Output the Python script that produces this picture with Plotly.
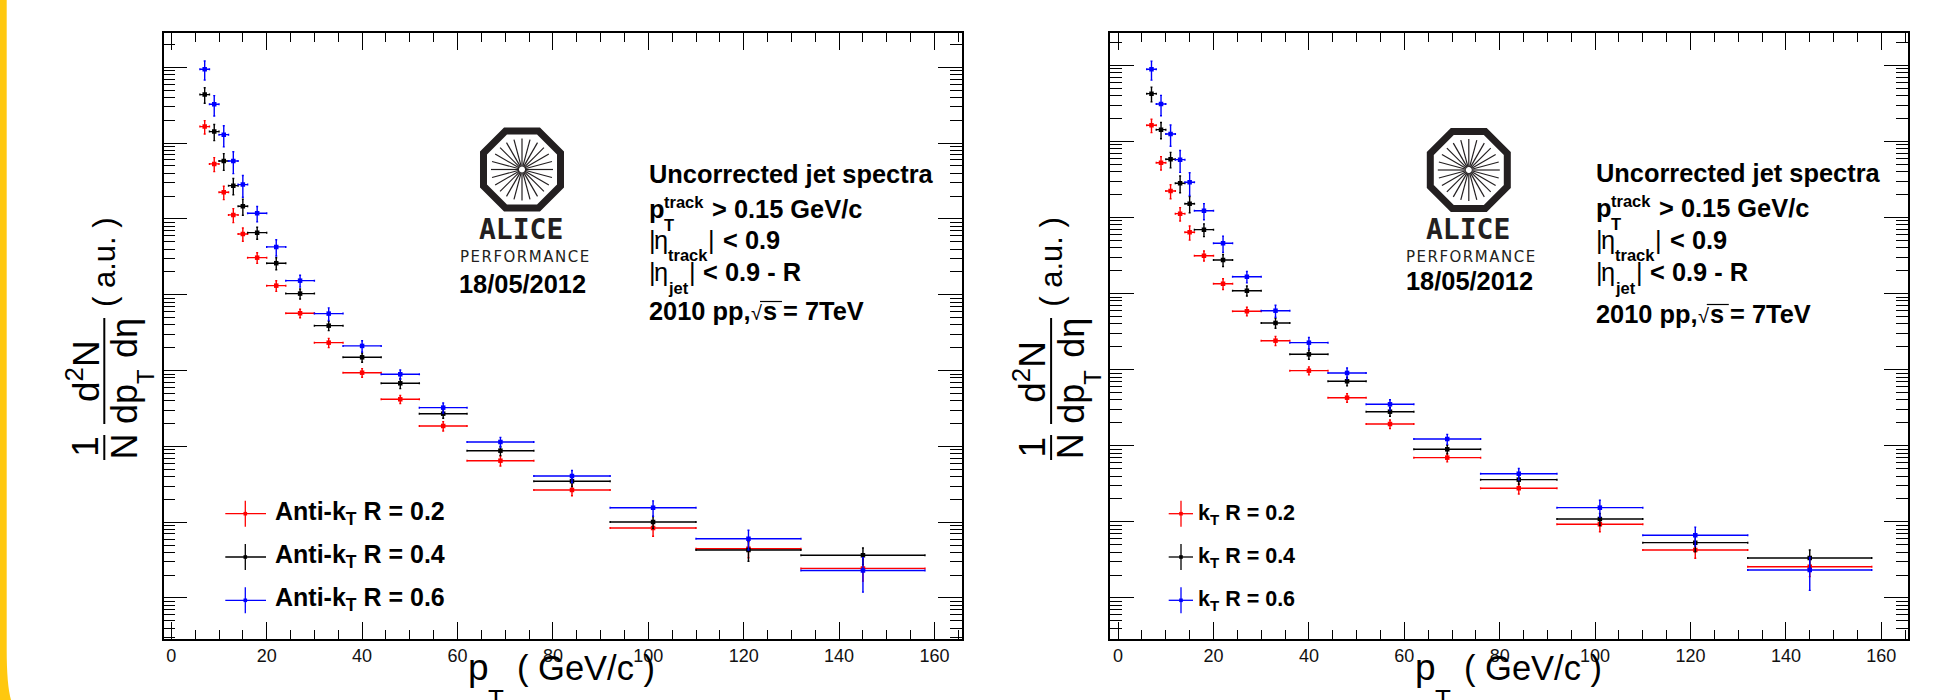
import math
import numpy as np
import plotly.graph_objects as go

W, H = 1945, 700
pt_centers = [7, 9, 11, 13, 15, 18, 22, 27, 33, 40, 48, 57, 69, 84, 101, 121, 145]
pt_half_widths = [1, 1, 1, 1, 1, 2, 2, 3, 3, 4, 4, 5, 7, 8, 9, 11, 13]

# log10 of the spectra (a.u.)
antikt_r02 = [6.218, 5.726, 5.352, 5.053, 4.802, 4.489, 4.120, 3.756, 3.368, 2.972, 2.621, 2.269, 1.811, 1.425, 0.923, 0.650, 0.390]
antikt_r04 = [6.640, 6.152, 5.765, 5.439, 5.168, 4.819, 4.416, 4.015, 3.592, 3.175, 2.832, 2.431, 1.943, 1.540, 1.003, 0.633, 0.563]
antikt_r06 = [6.975, 6.513, 6.112, 5.765, 5.453, 5.075, 4.631, 4.186, 3.751, 3.325, 2.951, 2.511, 2.058, 1.609, 1.191, 0.782, 0.362]
kt_r02 = [6.212, 5.720, 5.348, 5.050, 4.805, 4.498, 4.130, 3.767, 3.381, 2.987, 2.632, 2.286, 1.844, 1.442, 0.968, 0.631, 0.411]
kt_r04 = [6.627, 6.154, 5.765, 5.449, 5.181, 4.840, 4.442, 4.038, 3.614, 3.202, 2.848, 2.448, 1.954, 1.555, 1.038, 0.727, 0.526]
kt_r06 = [6.947, 6.491, 6.097, 5.760, 5.463, 5.089, 4.661, 4.222, 3.775, 3.355, 2.957, 2.545, 2.089, 1.633, 1.187, 0.824, 0.368]

# relative errors
antikt_r02_err = [.20, .21, .20, .21, .20, .16, .16, .13, .14, .13, .12, .14, .15, .16, .22, .24, .32]
antikt_r04_err = [.23, .24, .25, .24, .24, .18, .18, .15, .14, .14, .15, .13, .14, .15, .18, .29, .25]
antikt_r06_err = [.28, .30, .31, .32, .32, .23, .24, .18, .19, .17, .14, .15, .15, .18, .23, .29, .48]
kt_r02_err = [.20, .20, .21, .20, .21, .15, .16, .13, .14, .12, .13, .13, .12, .16, .20, .22, .26]
kt_r04_err = [.22, .24, .23, .25, .24, .19, .18, .15, .15, .14, .13, .13, .13, .14, .18, .24, .27]
kt_r06_err = [.28, .30, .31, .32, .33, .24, .24, .17, .18, .17, .16, .15, .15, .17, .25, .28, .46]

series_colors = ["#ff0000", "#000000", "#0000ff"]
panels = [
    dict(algo="Anti-k", y=[antikt_r02, antikt_r04, antikt_r06], e=[antikt_r02_err, antikt_r04_err, antikt_r06_err]),
    dict(algo="k", y=[kt_r02, kt_r04, kt_r06], e=[kt_r02_err, kt_r04_err, kt_r06_err]),
]
R_labels = ["0.2", "0.4", "0.6"]
x_tick_vals = [0, 20, 40, 60, 80, 100, 120, 140, 160]
x_minor_vals = [v for v in range(5, 170, 5) if v % 20]
y_major_vals = [10.0 ** k for k in range(0, 8)]
y_minor_vals = [m * 10.0 ** k for k in range(-1, 8) for m in range(2, 10)]

FONT = "Liberation Sans"
fig = go.Figure()
shapes, annos = [], []


def px(x):
    return x / W


def py(y):
    return 1 - y / H


def txt(x, base, text, size, bold=True, font=FONT, color="black"):
    t = f"<b>{text}</b>" if bold else text
    annos.append(dict(xref="paper", yref="paper", x=px(x), y=py(base + 0.212 * size), xanchor="left", yanchor="bottom",
                      text=t, showarrow=False, borderpad=0, borderwidth=0, align="left",
                      font=dict(family=font, size=size, color=color)))


def rot(xc, yc, text, size):
    annos.append(dict(xref="paper", yref="paper", x=px(xc), y=py(yc), xanchor="center", yanchor="middle",
                      text=text, textangle=-90, showarrow=False, borderpad=0,
                      font=dict(family=FONT, size=size, color="black")))


def line(x0, y0, x1, y1, color="black", w=1.3):
    shapes.append(dict(type="line", xref="paper", yref="paper", x0=px(x0), y0=py(y0), x1=px(x1), y1=py(y1),
                       line=dict(color=color, width=w)))


def path(pts, color="black", w=1, fill=None, close=False):
    d = "M" + " L".join(f"{px(a):.6f},{py(b):.6f}" for a, b in pts) + (" Z" if close else "")
    shapes.append(dict(type="path", xref="paper", yref="paper", path=d,
                       line=dict(color=color, width=w), fillcolor=fill))


frames = [(163.5, 961.7, 7.4525, -0.537), (1110.3, 1908.3, 7.424, -0.535)]
dx = 946.8

for i, (p, fr) in enumerate(zip(panels, frames)):
    n = "" if i == 0 else "2"
    xa, ya = "x" + n, "y" + n
    for vals, errs, col in zip(p["y"], p["e"], series_colors):
        v = np.power(10.0, vals)
        fig.add_trace(go.Scatter(
            x=pt_centers, y=v, mode="markers", xaxis=xa, yaxis=ya, showlegend=False,
            marker=dict(symbol="square", size=4.5, color=col, line=dict(width=0)),
            error_x=dict(type="data", array=pt_half_widths, color=col, thickness=1.4, width=1),
            error_y=dict(type="data", array=(v * np.array(errs)).tolist(), color=col, thickness=1.4, width=1),
        ))
    left, right, ytop, ybot = fr
    xlo = (left - (171.3 + i * dx)) / 4.77
    xhi = (right - (171.3 + i * dx)) / 4.77
    ax = dict(domain=[px(left), px(right)], range=[xlo, xhi], tickmode="array", tickvals=x_tick_vals,
              ticktext=[str(t) for t in x_tick_vals], ticks="inside", ticklen=17, tickwidth=1.3, tickcolor="black",
              minor=dict(tickmode="array", tickvals=x_minor_vals, ticks="inside", ticklen=9, tickwidth=1.3, tickcolor="black"),
              showline=True, linecolor="black", linewidth=1.7, mirror="ticks", showgrid=False, zeroline=False,
              tickfont=dict(family=FONT, size=18, color="#111111"), anchor=ya)
    ay = dict(domain=[py(638.7), py(33)], type="log", range=[ybot, ytop], tickmode="array", tickvals=y_major_vals,
              showticklabels=False, ticks="inside", ticklen=24, tickwidth=1.3, tickcolor="black",
              minor=dict(tickmode="array", tickvals=y_minor_vals, ticks="inside", ticklen=12, tickwidth=1.3, tickcolor="black"),
              showline=True, linecolor="black", linewidth=1.7, mirror="ticks", showgrid=False, zeroline=False, anchor=xa)
    fig.update_layout({"xaxis" + n: ax, "yaxis" + n: ay})

    o = i * dx
    # y title
    rot(86 + o, 446.7, "1", 37)
    rot(124 + o, 446.5, "N", 36)
    rot(83.5 + o, 371.5, "d<sup>2</sup>N", 37)
    rot(124 + o, 404, "dp", 36)
    rot(145 + o, 377, "T", 24)
    rot(124 + o, 338, "dη", 36)
    rot(104 + o, 262, "( a.u. )", 31)
    line(104.3 + o, 435, 104.3 + o, 460, w=2)
    line(104.3 + o, 318, 104.3 + o, 424, w=2)
    # x title
    txt(468 + o, 680, "p", 37, bold=False)
    txt(488 + o, 708, "T", 26, bold=False)
    txt(516.7 + o, 680, "( GeV/c )", 34.5, bold=False)
    # ALICE logo
    cx, cy = 522 + o, 169.5 + (0.5 if i else 0)
    a, b = 38.5, 16.5
    path([(cx - b, cy - a), (cx + b, cy - a), (cx + a, cy - b), (cx + a, cy + b), (cx + b, cy + a), (cx - b, cy + a),
          (cx - a, cy + b), (cx - a, cy - b)], color="#231f20", w=7, close=True)
    for k in range(24):
        th = math.pi * 2 * k / 24
        line(cx + 3 * math.cos(th), cy + 3 * math.sin(th), cx + 31 * math.cos(th), cy + 31 * math.sin(th), color="#231f20", w=1.2)
    txt(479 + o, 240, "ALICE", 28, bold=True, font="DejaVu Sans Mono", color="#231f20")
    txt(459.5 + o, 262.7, "\u200a".join("PERFORMANCE"), 15, bold=False, font="DejaVu Sans", color="#231f20")
    txt(459 + o, 292.7 - (2.7 if i else 0), "18/05/2012", 25.4)
    # info text
    d = -1 if i else 0
    F = 25.4
    S = 16.5
    txt(649 + o, 183 + d, "Uncorrected jet spectra", F)
    txt(649 + o, 218 + d, "p", F)
    txt(664 + o, 208 + d, "track", S)
    txt(664 + o, 231 + d, "T", S)
    txt(711.7 + o, 218 + d, "&gt; 0.15 GeV/c", F)
    txt(649 + o, 249, "|", F, bold=False)
    txt(654 + o, 249, "η", F, bold=False)
    txt(668 + o, 261, "track", S)
    txt(708 + o, 249, "|", F, bold=False)
    txt(722.7 + o, 249, "&lt; 0.9", F)
    txt(649 + o, 281, "|", F, bold=False)
    txt(654 + o, 281, "η", F, bold=False)
    txt(668 + o, 294, "jet", S)
    txt(689 + o, 281, "|", F, bold=False)
    txt(703 + o, 281, "&lt; 0.9 - R", F)
    bb = 320 + (3 if i else 0)
    txt(649 + o, bb, "2010 pp,", F)
    txt(751 + o, bb, "√", 20, bold=False)
    txt(763 + o, bb, "s", F)
    txt(783 + o, bb, "= 7TeV", F)
    line(760 + o, bb - 18.5, 782 + o, bb - 18.5, w=1.2)
    # legend
    gx0, gx1, gxc, tx, fs = (225.3, 266, 245.3, 275, 25) if i == 0 else (1168.7, 1193, 1181, 1198, 21.5)
    for yc, col, r in zip([513.7, 557, 600.3], series_colors, R_labels):
        line(gx0, yc, gx1, yc, color=col, w=1.3)
        line(gxc, yc - 13, gxc, yc + 13, color=col, w=1.3)
        path([(gxc - 1.8, yc - 1.8), (gxc + 1.8, yc - 1.8), (gxc + 1.8, yc + 1.8), (gxc - 1.8, yc + 1.8)], color=col, w=0, fill=col, close=True)
        base = yc + 9.5
        txt(tx, base, f"{p['algo']}<sub>T</sub> R = {r}", fs)

# yellow page edge
shapes.append(dict(type="path", xref="paper", yref="paper", layer="above", fillcolor="#ffc80f", line=dict(width=0),
                   path=f"M0,1 L{px(6.7)},1 L{px(6.7)},{py(650)} Q{px(6.7)},{py(685)} {px(11)},0 L0,0 Z"))

fig.update_layout(width=W, height=H, margin=dict(l=0, r=0, t=0, b=0), autosize=False, paper_bgcolor="white",
                  plot_bgcolor="white", shapes=shapes, annotations=annos, showlegend=False)
fig.write_html("out.html", config=dict(displayModeBar=False), post_script="document.body.style.margin='0';document.body.style.overflow='hidden';")
